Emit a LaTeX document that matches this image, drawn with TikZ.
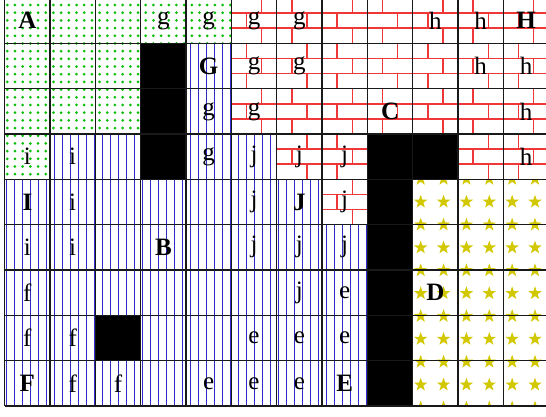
\documentclass[tikz,border=0pt]{standalone}
\usepackage{fontspec}
\setmainfont{Liberation Serif}
\definecolor{dotgreen}{RGB}{10,190,10}
\definecolor{stripeblue}{RGB}{45,45,200}
\definecolor{brickred}{RGB}{240,55,55}
\definecolor{staryellow}{RGB}{210,200,0}
\def\X{4.7}
\def\Y{-2}
\def\S{45.333}
\tikzset{
  gridline/.style={line width=1.4pt, draw=black!90},
  lab/.style={inner sep=0pt, font=\fontsize{25}{25}\selectfont},
  blab/.style={inner sep=0pt, font=\fontsize{25}{25}\selectfont\bfseries},
  stripe/.style={draw=stripeblue, line width=0.95pt},
  brick/.style={draw=brickred, line width=1.5pt},
}
\newcommand\drawstar[2]{\fill[staryellow,shift={(#1,#2)}] (-90:7) foreach \a/\r in {-54/2.8,-18/7,18/2.8,54/7,90/2.8,126/7,162/2.8,198/7,234/2.8}{ -- (\a:\r)} -- cycle;}
\begin{document}
\begin{tikzpicture}[x=1pt,y=-1pt]
\useasboundingbox (0,0) rectangle (546,416);
\clip (0,0) rectangle (546,416);
\fill[white] (0,0) rectangle (546,416);
% dotted region
\begin{scope}
\clip foreach \c/\r in {0/0,1/0,2/0,3/0,4/0,0/1,1/1,2/1,0/2,1/2,2/2,0/3}{ ({\X+\S*\c},{\Y+\S*\r}) rectangle ++(\S,\S) };
\foreach \i in {0,...,30}{
  \foreach \j in {0,...,24}{
    \fill[dotgreen] ({7.3+7.69*\i},{-2.69+7.69*\j}) circle (1.5);
  }
}
\end{scope}
% striped region
\begin{scope}
\clip foreach \c/\r in {4/1,4/2,1/3,2/3,4/3,5/3,0/4,1/4,2/4,3/4,4/4,5/4,6/4,0/5,1/5,2/5,3/5,4/5,5/5,6/5,7/5,0/6,1/6,2/6,3/6,4/6,5/6,6/6,7/6,0/7,1/7,3/7,4/7,5/7,6/7,7/7,0/8,1/8,2/8,3/8,4/8,5/8,6/8,7/8}{ ({\X+\S*\c},{\Y+\S*\r}) rectangle ++(\S,\S) };
\foreach \k in {0,...,46}{
  \draw[stripe] ({6.7+8*\k},40) -- ++(0,370);
}
\end{scope}
% brick region
\begin{scope}
\clip foreach \c/\r in {5/0,6/0,7/0,8/0,9/0,10/0,11/0,5/1,6/1,7/1,8/1,9/1,10/1,11/1,5/2,6/2,7/2,8/2,9/2,10/2,11/2,6/3,7/3,10/3,11/3,7/4}{ ({\X+\S*\c},{\Y+\S*\r}) rectangle ++(\S,\S) };
\foreach \n in {0,...,15}{
  \draw[brick] (220,{\Y+15.111*\n}) -- (560,{\Y+15.111*\n});
  \pgfmathsetmacro\pty{mod(\n+1,2)}
  \foreach \m in {6,...,18}{
    \draw[brick] ({\X+15.111*(2*\m+\pty)},{\Y+15.111*\n}) -- ++(0,15.111);
  }
}
\end{scope}
% star region
\begin{scope}
\clip ({\X+\S*9},{\Y+\S*4}) rectangle ({\X+\S*12},{\Y+\S*9});
\foreach \i in {-1,...,6}{
  \foreach \j in {-5,...,6}{
    \pgfmathsetmacro\sx{420.7+22.86*\i}
    \pgfmathsetmacro\sy{293.3+22.86*\j}
    \drawstar{\sx}{\sy}
  }
}
\end{scope}
% black cells
\fill[black] foreach \c/\r in {3/1,3/2,3/3,2/7,8/3,9/3,8/4,8/5,8/6,8/7,8/8}{ ({\X+\S*\c},{\Y+\S*\r}) rectangle ++(\S,\S) };
% grid
\foreach \k in {0,...,12}{
  \draw[gridline] ({\X+\S*\k},\Y) -- ({\X+\S*\k},{\Y+9*\S});
}
\foreach \k in {0,...,9}{
  \draw[gridline] (\X,{\Y+\S*\k}) -- ({\X+12*\S},{\Y+\S*\k});
}
% labels
\foreach \c/\r/\t in {3/0/g,4/0/g,5/0/g,6/0/g,9/0/h,10/0/h,
  5/1/g,6/1/g,10/1/h,11/1/h,
  4/2/g,5/2/g,11/2/h,
  0/3/i,1/3/i,4/3/g,5/3/j,6/3/j,7/3/j,11/3/h,
  1/4/i,5/4/j,7/4/j,
  0/5/i,1/5/i,5/5/j,6/5/j,7/5/j,
  0/6/f,6/6/j,7/6/e,
  0/7/f,1/7/f,5/7/e,6/7/e,7/7/e,
  1/8/f,2/8/f,4/8/e,5/8/e,6/8/e}{
  \node[lab] (L\c-\r) at ({\X+\S*(\c+0.5)},{\Y+\S*(\r+0.5)}) {\t};
}
\foreach \c/\r/\t in {0/0/A,11/0/H,4/1/G,8/2/C,0/4/I,6/4/J,3/5/B,9/6/D,0/8/F,7/8/E}{
  \node[blab] (B\c-\r) at ({\X+\S*(\c+0.5)},{\Y+\S*(\r+0.5)}) {\t};
}
\end{tikzpicture}
\end{document}
